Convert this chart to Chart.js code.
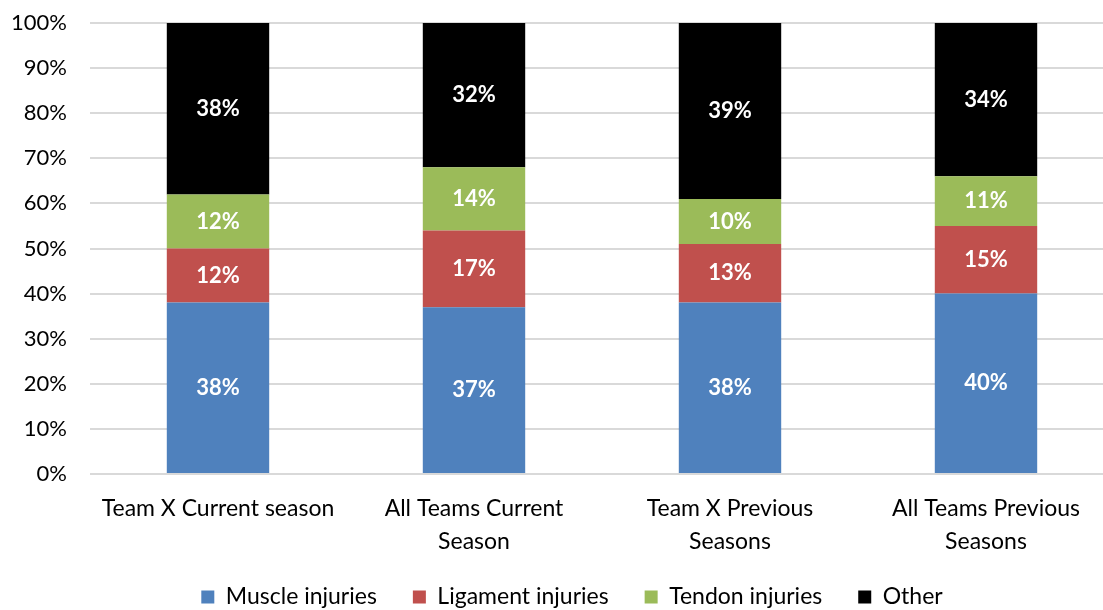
<!DOCTYPE html>
<html>
<head>
<meta charset="utf-8">
<script src="https://cdn.jsdelivr.net/npm/chart.js@4/dist/chart.umd.min.js"></script>
<style>
html,body{margin:0;padding:0;overflow:hidden;background:#fff;}
#wrap{width:1114px;height:610px;position:relative;}
</style>
</head>
<body>
<div id="wrap"><canvas id="c"></canvas></div>
<script>
const categories = [
  'Team X Current season',
  ['All Teams Current', 'Season'],
  ['Team X Previous', 'Seasons'],
  ['All Teams Previous', 'Seasons']
];
const seriesNames = ['Muscle injuries', 'Ligament injuries', 'Tendon injuries', 'Other'];
const muscle = [38, 37, 38, 40];
const ligament = [12, 17, 13, 15];
const tendon = [12, 14, 10, 11];
const other = [38, 32, 39, 34];
const yTicks = [0, 10, 20, 30, 40, 50, 60, 70, 80, 90, 100];

const colors = ['#4f81bd', '#c0504d', '#9bbb59', '#000000'];
const FONT = 'Lato, "Open Sans", sans-serif';

const labelPlugin = {
  id: 'barLabels',
  afterDatasetsDraw(chart) {
    const ctx = chart.ctx;
    ctx.save();
    ctx.font = 'bold 22px ' + FONT;
    ctx.fillStyle = '#ffffff';
    ctx.textAlign = 'center';
    ctx.textBaseline = 'middle';
    chart.data.datasets.forEach((ds, i) => {
      const meta = chart.getDatasetMeta(i);
      meta.data.forEach((el, j) => {
        const v = ds.data[j];
        ctx.fillText(v + '%', el.x, (el.y + el.base) / 2);
      });
    });
    ctx.restore();
  }
};

const legendShift = {
  id: 'legendShift',
  afterLayout(chart) {
    if (chart.legend) { chart.legend.left += 15; chart.legend.right += 15; }
  }
};

new Chart(document.getElementById('c'), {
  type: 'bar',
  data: {
    labels: categories,
    datasets: [muscle, ligament, tendon, other].map((d, i) => ({
      label: seriesNames[i],
      data: d,
      backgroundColor: colors[i],
      barPercentage: 0.4,
      categoryPercentage: 1.0
    }))
  },
  options: {
    responsive: true,
    maintainAspectRatio: false,
    animation: false,
    layout: { padding: { top: 23, left: 0, right: 0, bottom: -8.5 } },
    plugins: {
      legend: {
        position: 'bottom',
        labels: {
          boxWidth: 13, boxHeight: 13,
          font: { family: FONT, size: 23 },
          color: '#000',
          padding: 36
        }
      },
      tooltip: { enabled: false }
    },
    scales: {
      x: {
        stacked: true,
        grid: { display: false },
        border: { display: false },
        afterFit(axis) { axis.height = 75.5; },
        ticks: {
          font: { family: FONT, size: 23, lineHeight: 1.43 },
          color: '#000',
          padding: 10,
          maxRotation: 0
        }
      },
      y: {
        stacked: true,
        min: 0, max: 100,
        afterBuildTicks(axis) { axis.ticks = yTicks.map(v => ({ value: v })); },
        afterFit(axis) { axis.width = 90; axis.paddingTop = 0; axis.paddingBottom = 0; },
        grid: { color: '#d9d9d9', lineWidth: 2, drawTicks: false },
        border: { display: false },
        ticks: {
          font: { family: FONT, size: 22 },
          color: '#000',
          padding: 23,
          callback: v => v + '%'
        }
      }
    }
  },
  plugins: [labelPlugin, legendShift]
});
</script>
</body>
</html>
